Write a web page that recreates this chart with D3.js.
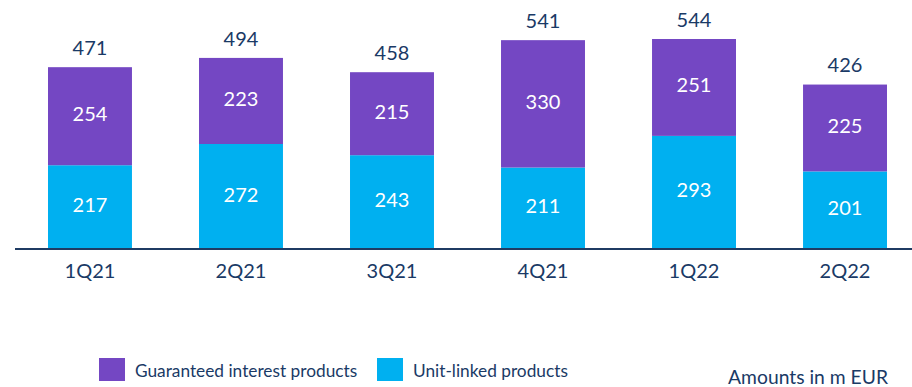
<!DOCTYPE html>
<html><head><meta charset="utf-8">
<script src="https://cdn.jsdelivr.net/npm/d3@7"></script>
<style>body{margin:0;background:#fff}svg{display:block}text{font-family:Lato,sans-serif}</style>
</head><body><svg id="c" width="912" height="387"></svg>
<script>
const categories = ["1Q21","2Q21","3Q21","4Q21","1Q22","2Q22"];
const unitLinked = [217,272,243,211,293,201];
const guaranteed = [254,223,215,330,251,225];
const totals = [471,494,458,541,544,426];
const seriesNames = ["Guaranteed interest products","Unit-linked products"];
const note = "Amounts in m EUR";

const colPurple = "#7447c3", colCyan = "#00b0f0", navy = "#1a3a66";
const FS = 20;
const svg = d3.select("#c");
const x = d3.scaleBand().domain(categories).range([48, 887]).paddingInner(0.444).paddingOuter(0);
const y = d3.scaleLinear().domain([0, 544]).range([249, 39]);

const rows = categories.map((c,i)=>({cat:c, ul:unitLinked[i], gi:guaranteed[i], total:totals[i]}));
const stack = d3.stack().keys(["ul","gi"])(rows);
const colors = {ul:colCyan, gi:colPurple};

stack.forEach(layer=>{
  const g = svg.append("g");
  g.selectAll("rect").data(layer).join("rect")
    .attr("x", d=>x(d.data.cat)).attr("width", x.bandwidth())
    .attr("y", d=>y(d[1])).attr("height", d=>y(d[0])-y(d[1]))
    .attr("fill", colors[layer.key]);
  g.selectAll("text").data(layer).join("text")
    .attr("x", d=>x(d.data.cat)+x.bandwidth()/2)
    .attr("y", d=>(y(d[0])+y(d[1]))/2 + 5)
    .attr("text-anchor","middle").attr("fill","#fff").attr("font-size",FS)
    .text(d=>d.data[layer.key]);
});

svg.append("g").selectAll("text").data(rows).join("text")
  .attr("x", d=>x(d.cat)+x.bandwidth()/2).attr("y", d=>y(d.total)-12.5)
  .attr("text-anchor","middle").attr("fill",navy).attr("font-size",FS).text(d=>d.total);

svg.append("line").attr("x1",15).attr("x2",912).attr("y1",249).attr("y2",249)
  .attr("stroke","#1f3b63").attr("stroke-width",2);

const ax = svg.append("g").attr("transform","translate(0,249)")
  .call(d3.axisBottom(x).tickSize(0).tickPadding(15));
ax.select(".domain").remove();
ax.selectAll("text").attr("font-size",FS).attr("fill",navy).attr("font-family","Lato,sans-serif");

const leg = [{name:seriesNames[0], c:colPurple, x:99, tx:135},{name:seriesNames[1], c:colCyan, x:377, tx:413}];
const lg = svg.append("g");
lg.selectAll("rect").data(leg).join("rect").attr("x",d=>d.x).attr("y",358).attr("width",26).attr("height",23).attr("fill",d=>d.c);
lg.selectAll("text").data(leg).join("text").attr("x",d=>d.tx).attr("y",377).attr("font-size",17.3).attr("fill",navy).text(d=>d.name);

svg.append("text").attr("x",888).attr("y",384).attr("text-anchor","end").attr("font-size",19.3).attr("fill",navy).text(note);
</script></body></html>
